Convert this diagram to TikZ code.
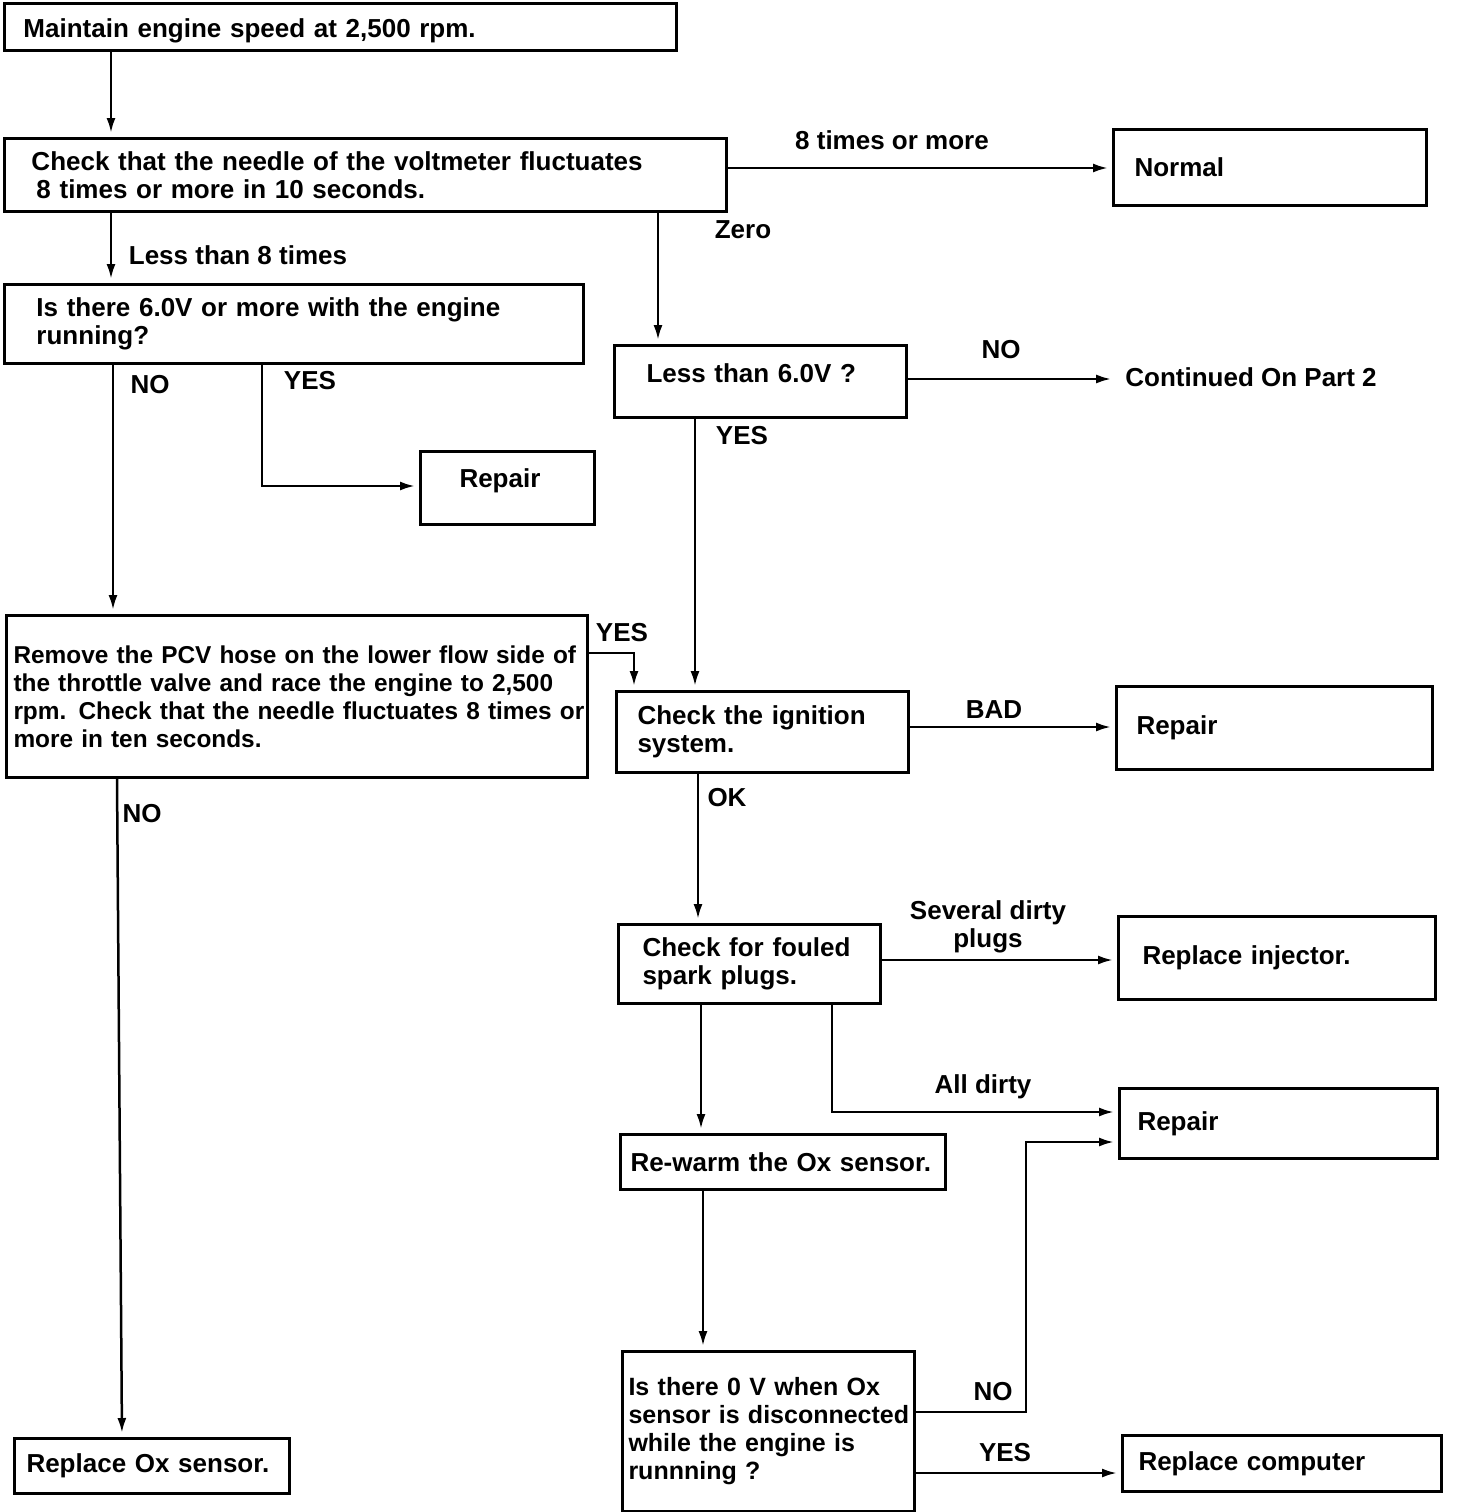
\documentclass[tikz,border=0pt]{standalone}
\usepackage{fontspec}
\setmainfont{Liberation Sans}
\usetikzlibrary{arrows.meta}
\tikzset{
  txt/.style={font=\bfseries\fontsize{26}{28}\selectfont},
  small/.style={font=\bfseries\fontsize{#1}{28}\selectfont},
  box/.style={txt, draw, line width=3pt, anchor=north west, inner xsep=0pt, inner ysep=0pt},
  pad/.style={execute at begin node={\raggedright\leftskip=#1\relax\rightskip=-200pt plus 1fil\relax\hyphenpenalty=10000\relax}},
  lbl/.style={txt, inner sep=0pt, align=center},
  arr/.style={line width=2.5pt, -{Latex[length=15pt,width=9pt]}, shorten >=4pt},
}
\begin{document}
\begin{tikzpicture}[x=1pt,y=-1pt]
  \useasboundingbox (0,0) rectangle (1456,1512);
  % boxes, placed by their top left corners
  \node[box, pad=19pt, text width=672pt, minimum height=47pt, text height=27pt, text depth=5.5pt] (speed) at (3,2)
    {Maintain engine speed at 2,500 rpm.};
  \node[box, pad=27pt, text width=722pt, minimum height=73pt] (needle) at (3,137)
    {Check that the needle of the voltmeter fluctuates\\\hspace*{5pt}8 times or more in 10 seconds.};
  \node[box, pad=21pt, text width=313pt, minimum height=76pt] (normal) at (1112,128)
    {Normal};
  \node[box, pad=32pt, text width=579pt, minimum height=79pt] (engrun) at (3,283)
    {Is there 6.0V or more with the engine\\running?};
  \node[box, pad=32pt, text width=292pt, minimum height=72pt, text height=19pt, text depth=17pt] (lowv) at (613,344)
    {Less than 6.0V ?};
  \node[lbl] (cont) at (1251,377) {Continued On Part 2};
  \node[box, pad=39pt, text width=174pt, minimum height=73pt, text height=19pt, text depth=21pt] (repairA) at (419,450)
    {Repair};
  \node[box, small=24.4, pad=7pt, text width=581pt, minimum height=162pt] (pcv) at (5,614)
    {Remove the PCV hose on the lower flow side of\\the throttle valve and race the engine to 2,500\\rpm. Check that the needle fluctuates 8 times or\\more in ten seconds.};
  \node[box, pad=21pt, text width=292pt, minimum height=81pt] (ign) at (615,690)
    {Check the ignition\\system.};
  \node[box, pad=20pt, text width=316pt, minimum height=83pt] (repairB) at (1115,685)
    {Repair};
  \node[box, pad=24pt, text width=262pt, minimum height=79pt] (plugs) at (617,923)
    {Check for fouled\\spark plugs.};
  \node[box, pad=24pt, text width=317pt, minimum height=83pt] (inj) at (1117,915)
    {Replace injector.};
  \node[box, pad=18pt, text width=318pt, minimum height=70pt] (repairC) at (1118,1087)
    {Repair};
  \node[box, pad=10pt, text width=325pt, minimum height=55pt] (rewarm) at (619,1133)
    {Re-warm the Ox sensor.};
  \node[box, small=25, pad=6pt, text width=292pt, minimum height=160pt] (zerov) at (621,1350)
    {Is there 0 V when Ox\\sensor is disconnected\\while the engine is\\runnning ?};
  \node[box, pad=16pt, text width=319pt, minimum height=56pt] (comp) at (1121,1434)
    {Replace computer};
  \node[box, pad=12pt, text width=275pt, minimum height=55pt] (oxrep) at (13,1437)
    {Replace Ox sensor.};
  % labels on the connectors
  \node[lbl] (l8more) at (892,140) {8 times or more};
  \node[lbl] (lzero) at (743,230) {Zero};
  \node[lbl] (lless) at (238,255) {Less than 8 times};
  \node[lbl] (lnoA) at (150,385) {NO};
  \node[lbl] (lyesA) at (310,381) {YES};
  \node[lbl] (lnoB) at (1001,350) {NO};
  \node[lbl] (lyesB) at (742,436) {YES};
  \node[lbl] (lyesC) at (622,633) {YES};
  \node[lbl] (lnoC) at (142,814) {NO};
  \node[lbl] (lbad) at (994,710) {BAD};
  \node[lbl] (lok) at (727,798) {OK};
  \node[lbl] (lsev) at (988,927) {Several dirty\\plugs};
  \node[lbl] (lall) at (983,1087) {All dirty};
  \node[lbl] (lnoD) at (993,1392) {NO};
  \node[lbl] (lyesD) at (1005,1453) {YES};
  % connectors
  \begin{scope}[arr]
    \draw (speed.south -| 111,0) -- (needle.north -| 111,0);
    \draw (needle.east |- 0,168) -- (normal.west |- 0,168);
    \draw (needle.south -| 658,0) -- (lowv.north -| 658,0);
    \draw (needle.south -| 111,0) -- (engrun.north -| 111,0);
    \draw (engrun.south -| 113,0) -- (pcv.north -| 113,0);
    \draw (engrun.south -| 262,0) |- (repairA.west |- 0,486);
    \draw[shorten >=14pt] (lowv.east |- 0,379) -- (cont.west |- 0,379);
    \draw (lowv.south -| 695,0) -- (ign.north -| 695,0);
    \draw (pcv.east |- 0,653) -| (ign.north -| 634,0);
    \draw (pcv.south -| 117,0) -- (oxrep.north -| 122,0);
    \draw (ign.east |- 0,727) -- (repairB.west |- 0,727);
    \draw (ign.south -| 698,0) -- (plugs.north -| 698,0);
    \draw (plugs.east |- 0,960) -- (inj.west |- 0,960);
    \draw (plugs.south -| 832,0) |- (repairC.west |- 0,1112);
    \draw (plugs.south -| 701,0) -- (rewarm.north -| 701,0);
    \draw (rewarm.south -| 703,0) -- (zerov.north -| 703,0);
    \draw (zerov.east |- 0,1412) -| (1026,1142) -- (repairC.west |- 0,1142);
    \draw (zerov.east |- 0,1473) -- (comp.west |- 0,1473);
  \end{scope}
\end{tikzpicture}
\end{document}
